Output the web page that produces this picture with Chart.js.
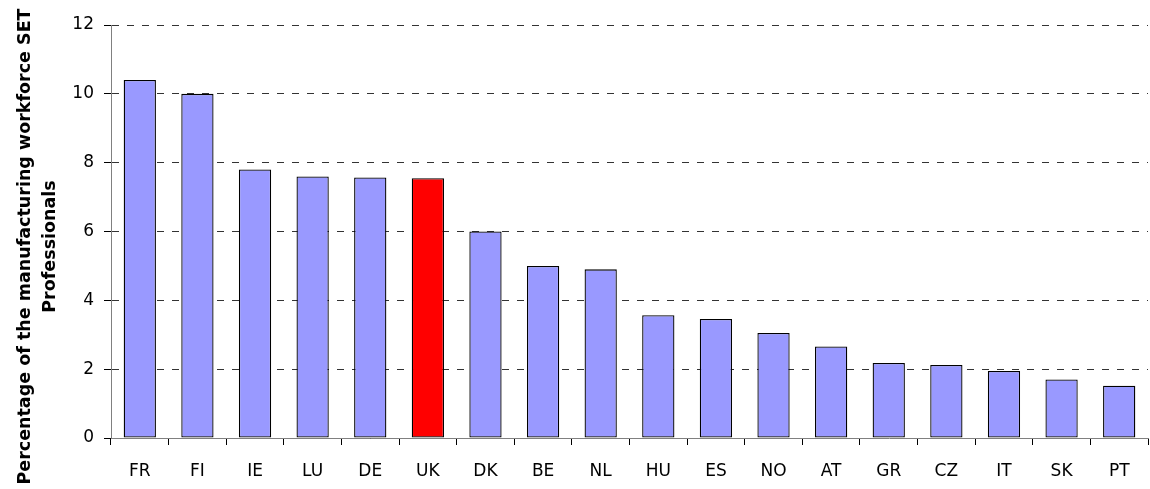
<!DOCTYPE html>
<html>
<head>
<meta charset="utf-8">
<script src="https://cdn.jsdelivr.net/npm/chart.js@4/dist/chart.umd.min.js"></script>
<style>
  body { margin: 0; background: #fff; }
  #wrap { width: 1150px; height: 489px; }
</style>
</head>
<body>
<div id="wrap"><canvas id="barChart" width="1150" height="489"></canvas></div>
<script>
// data
const countries = ['FR', 'FI', 'IE', 'LU', 'DE', 'UK', 'DK', 'BE', 'NL', 'HU', 'ES', 'NO', 'AT', 'GR', 'CZ', 'IT', 'SK', 'PT'];
const setShare = [10.4, 10.0, 7.8, 7.6, 7.57, 7.55, 6.0, 5.0, 4.9, 3.57, 3.46, 3.05, 2.66, 2.18, 2.12, 1.95, 1.7, 1.52];
const highlightCountry = 'UK';
const yTicks = [0, 2, 4, 6, 8, 10, 12];
const yTitleLines = ['Percentage of the manufacturing workforce SET', 'Professionals'];

const barBlue = '#9999ff';
const barRed = '#ff0000';

// rotated two-line axis title, drawn by hand so it sits like the original
const yTitlePlugin = {
    id: 'yTitle',
    afterDraw(chart) {
        const ctx = chart.ctx;
        const midY = (chart.chartArea.top + chart.chartArea.bottom) / 2 + 15;
        ctx.save();
        ctx.font = 'bold 17.5px "DejaVu Sans"';
        ctx.fillStyle = '#000';
        ctx.textAlign = 'center';
        ctx.textBaseline = 'alphabetic';
        const baselines = [30, 55];
        yTitleLines.forEach((line, i) => {
            ctx.save();
            ctx.translate(baselines[i], midY);
            ctx.rotate(-Math.PI / 2);
            ctx.fillText(line, 0, 0);
            ctx.restore();
        });
        ctx.restore();
    }
};

new Chart(document.getElementById('barChart').getContext('2d'), {
    type: 'bar',
    data: {
        labels: countries,
        datasets: [{
            data: setShare,
            backgroundColor: countries.map(c => c === highlightCountry ? barRed : barBlue),
            borderColor: '#000',
            borderWidth: 1.3,
            borderSkipped: false,
            barPercentage: 0.56,
            categoryPercentage: 1
        }]
    },
    options: {
        responsive: false,
        animation: false,
        layout: { padding: { top: 25, right: 2, bottom: 0, left: 0 } },
        plugins: {
            legend: { display: false },
            tooltip: { enabled: false }
        },
        scales: {
            x: {
                afterFit: scale => { scale.height = 51; },
                grid: {
                    display: true,
                    drawOnChartArea: false,
                    offset: true,
                    tickLength: 7,
                    color: '#000'
                },
                border: { color: '#808080', width: 1 },
                ticks: {
                    color: '#000',
                    font: { family: 'DejaVu Sans', size: 17 },
                    padding: 16,
                    maxRotation: 0,
                    autoSkip: false
                }
            },
            y: {
                min: 0,
                max: 12,
                afterFit: scale => { scale.width = 111; },
                afterBuildTicks: scale => { scale.ticks = yTicks.map(v => ({ value: v })); },
                grid: {
                    color: '#333',
                    tickLength: 7,
                    tickColor: '#000',
                    tickBorderDash: []
                },
                border: { color: '#808080', width: 1, dash: [7, 8] },
                ticks: {
                    color: '#000',
                    font: { family: 'DejaVu Sans', size: 17 },
                    padding: 10
                }
            }
        }
    },
    plugins: [yTitlePlugin]
});
</script>
</body>
</html>
